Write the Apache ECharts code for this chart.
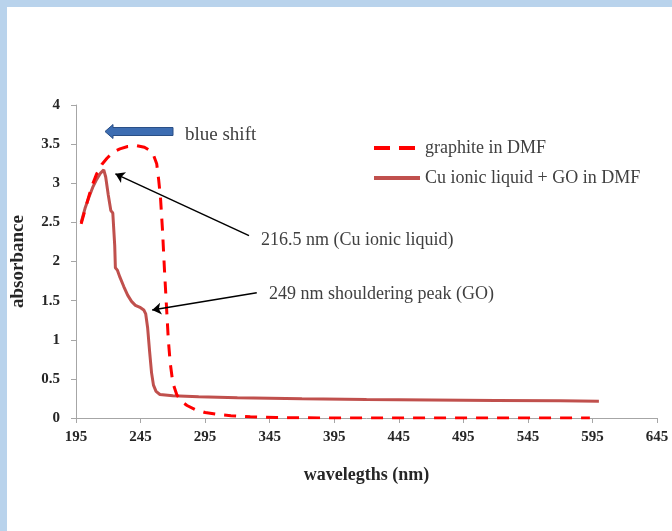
<!DOCTYPE html>
<html>
<head>
<meta charset="utf-8">
<script src="https://cdn.jsdelivr.net/npm/echarts@6/dist/echarts.min.js"></script>
<style>
  html, body { margin: 0; padding: 0; background: #ffffff; }
  #chart { width: 672px; height: 531px; }
</style>
</head>
<body>
<div id="chart"></div>
<script>
// ---- data (wavelength in nm, absorbance) ----
const xTickStart = 195;
const xTickStep = 50;
const xTickEnd = 645;
const yTicks = [0, 0.5, 1, 1.5, 2, 2.5, 3, 3.5, 4];

const seriesNames = ['graphite in DMF', 'Cu ionic liquid + GO in DMF'];

const graphiteWl = [199, 203, 207, 211, 215, 219, 224, 229, 235, 242, 248, 252, 255, 257.5, 259, 260.5, 262, 263.5, 265, 266.5, 268, 270, 273, 276, 281, 287, 295, 305, 315, 330, 350, 400, 450, 500, 550, 593];
const graphiteAbs = [2.48, 2.72, 2.95, 3.12, 3.24, 3.32, 3.40, 3.44, 3.47, 3.48, 3.46, 3.42, 3.36, 3.25, 3.05, 2.80, 2.40, 1.90, 1.45, 1.00, 0.70, 0.45, 0.30, 0.22, 0.16, 0.11, 0.07, 0.045, 0.03, 0.015, 0.005, 0.0, 0.0, 0.0, 0.0, 0.0];

const cuWl = [199, 202, 205, 208, 211, 214, 216.5, 218, 220, 222, 223.5, 224.5, 225, 225.5, 227, 229, 232, 235, 238, 241, 245, 247.5, 249, 250.5, 252, 253.5, 255, 257, 260, 270, 290, 320, 370, 420, 470, 520, 570, 600];
const cuAbs = [2.50, 2.68, 2.82, 2.95, 3.05, 3.13, 3.17, 3.08, 2.85, 2.65, 2.62, 2.60, 2.20, 1.92, 1.89, 1.80, 1.68, 1.57, 1.49, 1.44, 1.41, 1.38, 1.33, 1.15, 0.85, 0.58, 0.42, 0.34, 0.30, 0.285, 0.27, 0.26, 0.245, 0.235, 0.23, 0.225, 0.22, 0.215];

// annotation arrows: [fromWl, fromAbs, toWl, toAbs]
const arrowPeak = [329, 2.33, 225.5, 3.12];
const arrowShoulder = [335, 1.60, 254, 1.38];
const annotationTexts = ['216.5 nm (Cu ionic liquid)', '249 nm shouldering peak (GO)', 'blue shift'];

// ---- build ----
const X0 = xTickStart;
const toPairs = (xs, ys) => xs.map((w, i) => [w - X0, ys[i]]);
const serif = '"Liberation Serif", "Times New Roman", serif';

const chart = echarts.init(document.getElementById('chart'), null, { renderer: 'canvas' });

const option = {
  backgroundColor: '#ffffff',
  animation: false,
  grid: { left: 76, right: 15, top: 105, bottom: 113, containLabel: false, outerBoundsMode: 'none' },
  legend: {
    orient: 'vertical',
    left: 367,
    top: 134,
    itemWidth: 46,
    itemHeight: 14,
    itemGap: 12,
    data: [
      { name: seriesNames[0], lineStyle: { width: 4, type: [16, 9] } },
      { name: seriesNames[1], lineStyle: { width: 4 } }
    ],
    itemStyle: { opacity: 0, color: 'rgba(0,0,0,0)', borderWidth: 0 },
    lineStyle: { width: 4 },
    textStyle: { fontFamily: serif, fontSize: 18, color: '#404040' }
  },
  xAxis: {
    type: 'value',
    min: 0,
    max: xTickEnd - xTickStart,
    interval: xTickStep,
    name: 'wavelegths (nm)',
    nameLocation: 'middle',
    nameGap: 48,
    nameTextStyle: { fontFamily: serif, fontSize: 18, fontWeight: 'bold', color: '#262626' },
    axisLine: { onZero: false, lineStyle: { color: '#a6a6a6', width: 1 } },
    axisTick: { show: true, length: 5, lineStyle: { color: '#a6a6a6' } },
    axisLabel: {
      margin: 12,
      formatter: v => String(v + X0),
      fontFamily: serif, fontSize: 15, fontWeight: 'bold', color: '#262626'
    },
    splitLine: { show: false }
  },
  yAxis: {
    type: 'value',
    min: yTicks[0],
    max: yTicks[yTicks.length - 1],
    interval: 0.5,
    name: 'absorbance',
    nameLocation: 'middle',
    nameGap: 48,
    nameRotate: 90,
    nameTextStyle: { fontFamily: serif, fontSize: 19, fontWeight: 'bold', color: '#262626' },
    axisLine: { show: true, lineStyle: { color: '#a6a6a6', width: 1 } },
    axisTick: { show: true, length: 5, lineStyle: { color: '#a6a6a6' } },
    axisLabel: {
      margin: 16,
      fontFamily: serif, fontSize: 15, fontWeight: 'bold', color: '#262626'
    },
    splitLine: { show: false }
  },
  series: [
    {
      name: seriesNames[0],
      type: 'line',
      data: toPairs(graphiteWl, graphiteAbs),
      symbol: 'none',
      showSymbol: false,
      color: '#ff0000',
      lineStyle: { color: '#ff0000', width: 3, type: [12, 9] },
      z: 3
    },
    {
      name: seriesNames[1],
      type: 'line',
      data: toPairs(cuWl, cuAbs),
      symbol: 'none',
      showSymbol: false,
      color: '#c0504d',
      lineStyle: { color: '#c0504d', width: 3 },
      z: 2,
      markLine: {
        silent: true,
        animation: false,
        symbol: ['none', 'arrow'],
        symbolSize: 9,
        label: { show: false },
        lineStyle: { color: '#000000', width: 1.5, type: 'solid' },
        emphasis: { disabled: true },
        data: [
          [{ coord: [arrowPeak[0] - X0, arrowPeak[1]] }, { coord: [arrowPeak[2] - X0, arrowPeak[3]] }],
          [{ coord: [arrowShoulder[0] - X0, arrowShoulder[1]] }, { coord: [arrowShoulder[2] - X0, arrowShoulder[3]] }]
        ]
      }
    }
  ],
  graphic: [
    { type: 'rect', shape: { x: 0, y: 0, width: 672, height: 7 }, style: { fill: '#b9d3ec' }, z: 100, silent: true },
    { type: 'rect', shape: { x: 0, y: 0, width: 7, height: 531 }, style: { fill: '#b9d3ec' }, z: 100, silent: true },
    {
      type: 'polygon',
      shape: { points: [[105, 131.5], [113, 124.5], [113, 127.5], [173, 127.5], [173, 135.5], [113, 135.5], [113, 138.5]] },
      style: { fill: '#3d6db2', stroke: '#2a4f86', lineWidth: 1 },
      z: 100, silent: true
    },
    {
      type: 'text', x: 185, y: 135,
      style: { text: annotationTexts[2], font: '19px ' + serif, fill: '#404040', verticalAlign: 'middle' },
      z: 100, silent: true
    },
    {
      type: 'text', x: 261, y: 240,
      style: { text: annotationTexts[0], font: '18px ' + serif, fill: '#404040', verticalAlign: 'middle' },
      z: 100, silent: true
    },
    {
      type: 'text', x: 269, y: 294,
      style: { text: annotationTexts[1], font: '18px ' + serif, fill: '#404040', verticalAlign: 'middle' },
      z: 100, silent: true
    }
  ]
};

chart.setOption(option);
</script>
</body>
</html>
